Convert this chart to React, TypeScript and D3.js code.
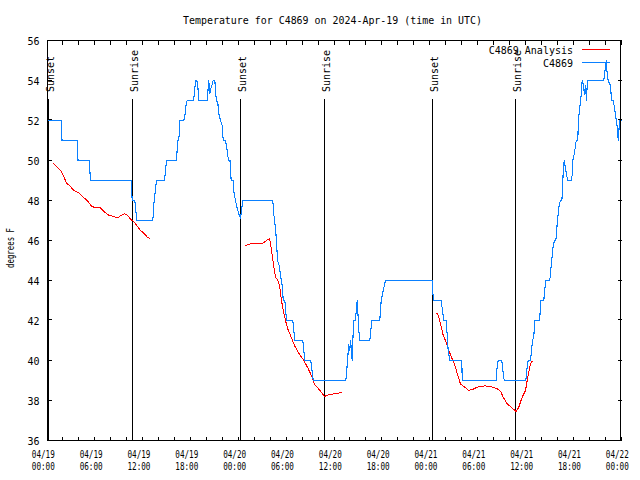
import React from 'react';
import * as d3 from 'd3';

const title = 'Temperature for C4869 on 2024-Apr-19 (time in UTC)';
const yLabel = 'degrees F';
const seriesNames = ['C4869 Analysis', 'C4869'];
const seriesColors = ['#ff0000', '#0a80ff'];

const yTicks = [36, 38, 40, 42, 44, 46, 48, 50, 52, 54, 56];
const xTickHours = [0, 6, 12, 18, 24, 30, 36, 42, 48, 54, 60, 66, 72];
const xTickDates = ['04/19', '04/19', '04/19', '04/19', '04/20', '04/20', '04/20', '04/20', '04/21', '04/21', '04/21', '04/21', '04/22'];
const xTickTimes = ['00:00', '06:00', '12:00', '18:00', '00:00', '06:00', '12:00', '18:00', '00:00', '06:00', '12:00', '18:00', '00:00'];
const minorTickHours = [0, 2, 4, 6, 8, 10, 12, 14, 16, 18, 20, 22, 24, 26, 28, 30, 32, 34, 36, 38, 40, 42, 44, 46, 48, 50, 52, 54, 56, 58, 60, 62, 64, 66, 68, 70, 72];

const sunLabels = ['Sunset', 'Sunrise', 'Sunset', 'Sunrise', 'Sunset', 'Sunrise'];
const sunHours = [0.16, 10.7, 24.25, 34.78, 48.33, 58.74];

// station observations (hours since 04/19 00:00 UTC, deg F)
const stationHours = [
  0.04, 1.72, 1.82, 3.73, 3.83, 5.23, 5.39, 10.5, 10.62, 10.95, 11.2, 13.21, 13.38, 13.67, 14.68, 14.93,
  16.18, 16.34, 16.47, 16.6, 17.1, 17.27, 17.4, 17.52, 18.28, 18.44, 18.56, 18.73, 18.85, 18.98, 20.03,
  20.23, 20.36, 20.48, 20.66, 20.78, 20.99, 21.11, 21.2, 21.36, 21.49, 21.7, 21.91, 22.04, 22.33, 22.54,
  22.7, 22.89, 23.04, 23.27, 23.39, 23.58, 23.8, 24.02, 24.21, 24.33, 24.5, 28.26, 28.39, 28.6, 28.72,
  28.85, 29.06, 29.23, 29.44, 29.57, 29.77, 29.98, 30.77, 31.02, 32.02, 32.27, 33.03, 33.33, 37.42,
  37.54, 37.67, 37.79, 37.92, 38.01, 38.13, 38.22, 38.35, 38.42, 38.63, 38.76, 38.85, 38.92, 39.05,
  39.17, 40.43, 40.68, 41.68, 41.86, 42.11, 42.4, 48.26, 48.33, 48.46, 49.38, 49.71, 50.01, 50.14,
  50.26, 50.46, 51.97, 52.02, 56.28, 56.41, 56.53, 56.99, 57.16, 57.29, 60.0, 60.17, 60.3, 60.59,
  60.71, 60.84, 61.0, 61.13, 61.75, 61.84, 62.25, 62.43, 62.51, 62.97, 63.09, 63.18, 63.31, 63.43,
  63.6, 63.76, 63.85, 63.93, 64.06, 64.19, 64.35, 64.51, 64.6, 64.67, 64.81, 65.1, 65.27, 65.69,
  65.85, 65.89, 66.11, 66.32, 66.52, 66.57, 66.69, 66.95, 67.07, 67.2, 67.36, 67.48, 67.61, 67.7,
  67.77, 69.78, 69.99, 70.08, 70.21, 70.33, 70.62, 70.75, 70.96, 71.09, 71.21, 71.34, 71.46, 71.59,
  71.71, 71.79, 72.0,
];
const stationTemps = [
  52, 52, 51, 51, 50, 50, 49, 49, 48, 48, 47, 47, 48, 49, 49, 50,
  50, 51, 51, 52, 52, 52.33, 52.83, 53, 53, 53.33, 54, 54, 53.75, 53, 53,
  54, 53.33, 53.6, 53.8, 54, 54, 53.33, 53, 52.9, 52.33, 52, 51.75, 51, 51, 50.5,
  50, 50, 49, 49, 48.4, 48, 47.6, 47.3, 47.1, 47.5, 48, 48, 47.3, 46.6, 46,
  45, 44.75, 44.25, 43.75, 43, 43, 42, 42, 41, 41, 40, 40, 39, 39,
  39.5, 40.2, 40.8, 40.5, 41, 40.5, 40, 41.5, 42, 42, 42.67, 43, 42.5, 41.5,
  41, 41, 42, 42, 43, 43.5, 44, 44, 43.4, 43, 43, 42, 42, 41.25,
  40.5, 40, 40, 39, 39, 39.75, 40, 40, 39.35, 39, 39, 39.67, 40, 40,
  40.5, 41, 41.2, 42, 42, 43, 43, 43.75, 44, 44, 44.25, 44.75, 45.25, 45.75,
  46, 46, 46.33, 46.83, 47.33, 47.83, 48, 48, 48.4, 49.25, 50, 49.3, 49, 49,
  49.35, 50, 50.4, 51, 51, 51.7, 52.4, 53.3, 54, 53.8, 53.3, 53.75, 53, 53.8,
  54, 54, 54.67, 55, 54.3, 54, 53.75, 53, 53, 52.7, 52.4, 52, 51.7, 51,
  51.7, 52, 52,
];

// analysis series (null = gap)
const analysisHours = [
  0.72, 1.22, 1.72, 2.04, 2.38, 2.8, 3.3, 3.93, 4.48, 4.98, 5.48, 5.81, 6.65, 7.15, 7.69, 8.24, 8.74,
  9.16, 9.66, 10.0, 10.41, 10.83, 11.25, 11.67, 12.08, 12.51, 12.83,
  18.0,
  24.75, 25.46, 26.93, 27.35, 27.85, 27.97, 28.19, 28.39, 28.6, 28.89, 29.14, 29.35, 29.57, 29.85,
  30.14, 30.57, 30.98, 31.52, 32.15, 32.65, 33.2, 33.49, 33.91, 34.33, 34.75, 35.29, 35.91, 36.97,
  42.0,
  48.67, 48.96, 49.3, 49.64, 49.92, 50.34, 50.76, 51.18, 51.47, 51.8, 52.22, 52.85, 53.47, 54.1,
  54.94, 55.78, 56.41, 56.82, 57.16, 57.66, 58.29, 58.79, 59.12, 59.54, 59.96, 60.17, 60.5, 60.67, 60.92,
];
const analysisTemps: (number | null)[] = [
  49.87, 49.67, 49.47, 49.2, 48.87, 48.73, 48.5, 48.37, 48.17, 48.0, 47.73, 47.67, 47.63, 47.43, 47.27, 47.2, 47.13,
  47.23, 47.33, 47.27, 47.07, 46.93, 46.73, 46.5, 46.37, 46.17, 46.1,
  null,
  45.73, 45.83, 45.83, 45.97, 46.1, 45.83, 45.25, 44.67, 44.17, 44.03, 43.67, 43, 42.5, 42,
  41.58, 41.17, 40.75, 40.37, 40, 39.63, 39.17, 38.8, 38.63, 38.42, 38.2, 38.3, 38.33, 38.4,
  null,
  42.33, 42.33, 41.83, 41.25, 41, 40.5, 40.08, 39.67, 39.25, 38.83, 38.7, 38.5, 38.58, 38.7,
  38.73, 38.67, 38.58, 38.47, 38.17, 37.83, 37.62, 37.45, 37.67, 38.17, 38.5, 39, 39.67, 39.92, 39.95,
];

const W = 640;
const H = 480;
const L = 47.5, R = 621.5, T = 40.5, B = 440.5;
const FONT = "'DejaVu Sans Mono', 'Liberation Mono', monospace";

export default function App() {
  const x = d3.scaleLinear().domain([0, 72]).range([L, R]);
  const y = d3.scaleLinear().domain([36, 56]).range([B, T]);

  const stationLine = d3
    .line<number>()
    .x((i) => x(stationHours[i]))
    .y((i) => y(stationTemps[i]))(stationHours.map((_, i) => i)) || '';

  const analysisLine = d3
    .line<number>()
    .defined((i) => analysisTemps[i] !== null)
    .x((i) => x(analysisHours[i]))
    .y((i) => y(analysisTemps[i] as number))(analysisHours.map((_, i) => i)) || '';

  const tickLen = 4;

  return (
    <div style={{ position: 'absolute', left: 0, top: 0 }}>
      <svg width={W} height={H} style={{ display: 'block', background: '#fff' }} fontFamily={FONT}>
        <rect x={0} y={0} width={W} height={H} fill="#fff" />
        {/* title */}
        <text x={332.5} y={24} fontSize={10} textAnchor="middle" textLength={299} lengthAdjust="spacingAndGlyphs">
          {title}
        </text>
        {/* y label */}
        <text transform="translate(13.5,248) rotate(-90)" fontSize={10} textAnchor="middle" textLength={40} lengthAdjust="spacingAndGlyphs">
          {yLabel}
        </text>

        {/* y ticks */}
        {yTicks.map((v) => (
          <g key={'y' + v}>
            <line x1={L} x2={L + tickLen} y1={Math.round(y(v)) - 0.5} y2={Math.round(y(v)) - 0.5} stroke="#000" shapeRendering="crispEdges" />
            <line x1={R - tickLen} x2={R} y1={Math.round(y(v)) - 0.5} y2={Math.round(y(v)) - 0.5} stroke="#000" shapeRendering="crispEdges" />
            <text x={39.5} y={y(v) + 4} fontSize={10} textAnchor="end">
              {v}
            </text>
          </g>
        ))}

        {/* x minor/major ticks */}
        {minorTickHours.map((h) => (
          <g key={'m' + h}>
            <line x1={Math.round(x(h)) - 0.5} x2={Math.round(x(h)) - 0.5} y1={T} y2={T + tickLen} stroke="#000" shapeRendering="crispEdges" />
            <line x1={Math.round(x(h)) - 0.5} x2={Math.round(x(h)) - 0.5} y1={B - tickLen} y2={B} stroke="#000" shapeRendering="crispEdges" />
          </g>
        ))}

        {/* x tick labels */}
        {xTickHours.map((h, i) => {
          const cx = x(h) - 4.2;
          return (
            <g key={'x' + h}>
              <text x={cx} y={458} fontSize={10} textAnchor="middle" textLength={23} lengthAdjust="spacingAndGlyphs">
                {xTickDates[i]}
              </text>
              <text x={cx} y={470} fontSize={10} textAnchor="middle" textLength={23} lengthAdjust="spacingAndGlyphs">
                {xTickTimes[i]}
              </text>
            </g>
          );
        })}

        {/* sunrise / sunset markers */}
        {sunHours.map((h, i) => {
          const sx = Math.round(x(h)) - 0.5;
          return (
            <g key={'s' + i}>
              <line x1={sx} x2={sx} y1={99} y2={B} stroke="#000" shapeRendering="crispEdges" />
              <text transform={`translate(${sx + 5},92) rotate(-90)`} fontSize={10} textAnchor="start">
                {sunLabels[i]}
              </text>
            </g>
          );
        })}

        {/* data */}
        <path d={analysisLine} fill="none" stroke={seriesColors[0]} strokeWidth={1} shapeRendering="crispEdges" />
        <path d={stationLine} fill="none" stroke={seriesColors[1]} strokeWidth={1.1} shapeRendering="crispEdges" />

        {/* legend */}
        {seriesNames.map((name, i) => (
          <g key={'l' + i}>
            <text x={573} y={54 + i * 13} fontSize={10} textAnchor="end">
              {name}
            </text>
            <line x1={582} x2={610} y1={49.5 + i * 13} y2={49.5 + i * 13} stroke={seriesColors[i]} shapeRendering="crispEdges" />
          </g>
        ))}

        {/* frame */}
        <rect x={L} y={T} width={R - L - 1} height={B - T} fill="none" stroke="#000" shapeRendering="crispEdges" />
      </svg>
    </div>
  );
}
